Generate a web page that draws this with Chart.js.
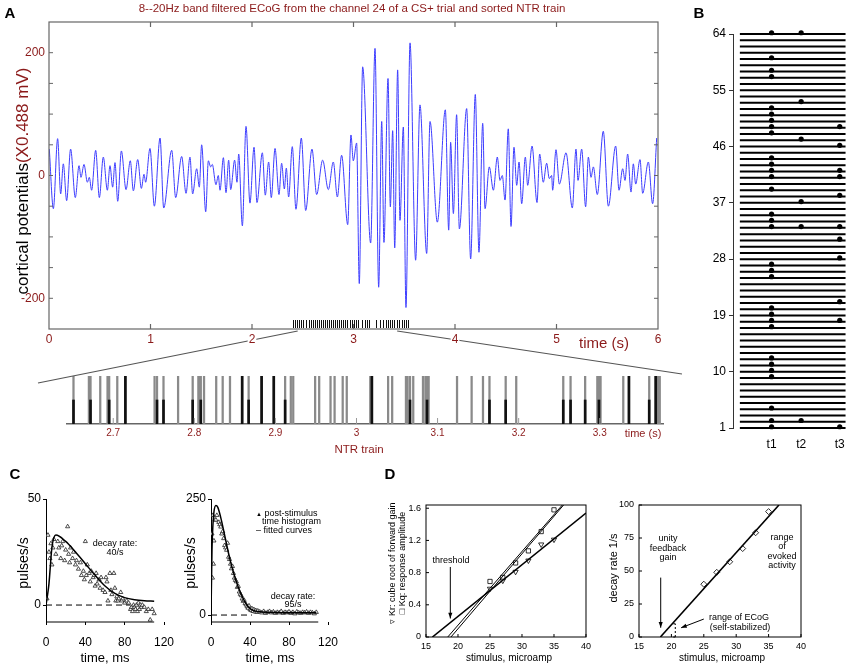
<!DOCTYPE html>
<html>
<head>
<meta charset="utf-8">
<script src="https://cdn.jsdelivr.net/npm/chart.js@4.4.1/dist/chart.umd.min.js"></script>
<style>
  body { margin: 0; background: #fff; }
  #fig { position: relative; width: 854px; height: 667px; overflow: hidden; font-family: "Liberation Sans", Arial, sans-serif; }
  canvas { position: absolute; }
  .t { position: absolute; white-space: nowrap; line-height: 1; transform: translate(-50%, -50%); }
  .l { transform: translate(0, -50%); }
  .r90 { transform: translate(-50%, -50%) rotate(-90deg); }
  .red { color: #8b1a1a; }
  .b { font-weight: bold; font-size: 15px; }
  .s { font-size: 9px; }
</style>
</head>
<body>
<div id="fig">
  <canvas id="cN" width="690" height="110" style="left:0;top:360px"></canvas>
  <canvas id="cA" width="690" height="390" style="left:0;top:0"></canvas>
  <canvas id="cB" width="164" height="460" style="left:690px;top:0"></canvas>
  <canvas id="cC1" width="205" height="187" style="left:0;top:480px"></canvas>
  <canvas id="cC2" width="240" height="187" style="left:180px;top:480px"></canvas>
  <canvas id="cD1" width="215" height="187" style="left:380px;top:480px"></canvas>
  <canvas id="cD2" width="254" height="187" style="left:600px;top:480px"></canvas>

  <div class="t b" style="left:10px;top:12px">A</div>
  <div class="t red" style="left:352px;top:9px;font-size:11.5px">8--20Hz band filtered ECoG from the channel 24 of a CS+ trial and sorted NTR train</div>
  <div class="t r90" style="left:22px;top:181px;font-size:17px">cortical potentials<span class="red">(X0.488 mV)</span></div>
  <div class="t red" style="left:604px;top:342px;font-size:15px">time (s)</div>
  <div class="t red" style="left:643px;top:433px;font-size:11px">time (s)</div>
  <div class="t red" style="left:359px;top:450px;font-size:11.5px">NTR train</div>

  <div class="t b" style="left:699px;top:12px">B</div>
  <div class="t b" style="left:15px;top:473px">C</div>
  <div class="t b" style="left:390px;top:473px">D</div>

  <div class="t r90" style="left:23px;top:563px;font-size:14px">pulses/s</div>
  <div class="t" style="left:105px;top:657px;font-size:13px">time, ms</div>
  <div class="t s" style="left:115px;top:543px">decay rate:</div>
  <div class="t s" style="left:115px;top:552px">40/s</div>

  <div class="t r90" style="left:190px;top:563px;font-size:14px">pulses/s</div>
  <div class="t" style="left:270px;top:657px;font-size:13px">time, ms</div>
  <div class="t l s" style="left:256px;top:513px"><span style="font-size:6px">▲</span> post-stimulus</div>
  <div class="t l s" style="left:262px;top:521px">time histogram</div>
  <div class="t l s" style="left:256px;top:530px">– fitted curves</div>
  <div class="t s" style="left:293px;top:596px">decay rate:</div>
  <div class="t s" style="left:293px;top:604px">95/s</div>

  <div class="t r90 s" style="left:392px;top:563px">▿ Kr: cube root of forward gain</div>
  <div class="t r90 s" style="left:402px;top:563px">□ Kq: response amplitude</div>
  <div class="t" style="left:509px;top:658px;font-size:10px">stimulus, microamp</div>
  <div class="t s" style="left:451px;top:560px">threshold</div>

  <div class="t r90" style="left:613px;top:568px;font-size:11px">decay rate 1/s</div>
  <div class="t" style="left:722px;top:658px;font-size:10px">stimulus, microamp</div>
  <div class="t s" style="left:668px;top:538px">unity</div>
  <div class="t s" style="left:668px;top:548px">feedback</div>
  <div class="t s" style="left:668px;top:557px">gain</div>
  <div class="t s" style="left:782px;top:537px">range</div>
  <div class="t s" style="left:782px;top:546px">of</div>
  <div class="t s" style="left:782px;top:556px">evoked</div>
  <div class="t s" style="left:782px;top:565px">activity</div>
  <div class="t s" style="left:739px;top:617px">range of ECoG</div>
  <div class="t s" style="left:740px;top:627px">(self-stabilized)</div>
</div>
<script>
// ---- data ----
// A: ECoG trace, local peaks and troughs [time s, value]
const ecogPeaks = [
  [0.003, 43], [0.043, -54], [0.085, 60], [0.115, -30], [0.141, 19], [0.174, -41], [0.213, 43], [0.259, -36],
  [0.296, 16], [0.315, -3], [0.345, 18], [0.378, -11], [0.397, -3], [0.420, -24], [0.460, 41], [0.496, -36],
  [0.535, 30], [0.575, -24], [0.601, 16], [0.627, -19], [0.650, 21], [0.677, -42], [0.713, 40], [0.759, -23],
  [0.801, 24], [0.831, -25], [0.874, 26], [0.910, -21], [0.936, 2], [0.952, -11], [0.995, 44], [1.038, -50],
  [1.094, 61], [1.130, -53], [1.209, 41], [1.248, -36], [1.307, 31], [1.350, -29], [1.389, 30], [1.415, -30],
  [1.455, 11], [1.481, -19], [1.504, 50], [1.544, -59], [1.570, 24], [1.593, 14], [1.609, 18], [1.645, -15],
  [1.668, 0], [1.685, -24], [1.718, 29], [1.744, -28], [1.770, 25], [1.790, -23], [1.829, 25], [1.852, -11],
  [1.869, 35], [1.905, -82], [1.941, 80], [1.980, -45], [2.020, 46], [2.049, -44], [2.102, 37], [2.131, -32],
  [2.164, 22], [2.190, -36], [2.227, 44], [2.266, -31], [2.292, 20], [2.319, -22], [2.338, 12], [2.361, -35],
  [2.397, 47], [2.433, -55], [2.486, 61], [2.529, -57], [2.591, 43], [2.637, -31], [2.696, 25], [2.752, -23],
  [2.801, 22], [2.841, -35], [2.883, 33], [2.943, -80], [2.975, 66], [2.998, 24], [3.031, 53], [3.057, -176],
  [3.090, 177], [3.169, -110], [3.212, 207], [3.248, -182], [3.278, 88], [3.300, -109], [3.340, 158], [3.363, -51],
  [3.386, 73], [3.406, -118], [3.435, 172], [3.458, -73], [3.491, 79], [3.517, -215], [3.557, 216], [3.612, -138],
  [3.655, 115], [3.721, -127], [3.754, 88], [3.826, -76], [3.905, 107], [3.938, -89], [3.957, 54], [3.984, -62],
  [4.016, 99], [4.043, -87], [4.115, 109], [4.154, -136], [4.200, 132], [4.236, -125], [4.273, 85], [4.296, -54],
  [4.338, 14], [4.378, -24], [4.417, 30], [4.443, -8], [4.466, 0], [4.493, -40], [4.525, 76], [4.552, -83],
  [4.581, 46], [4.608, -16], [4.631, 22], [4.657, -46], [4.693, 30], [4.716, -16], [4.759, 48], [4.808, -44],
  [4.834, 35], [4.870, -11], [4.903, 20], [4.929, -5], [4.952, 0], [4.962, -24], [4.995, 42], [5.028, -14],
  [5.094, 37], [5.156, -53], [5.192, 43], [5.212, -8], [5.248, 43], [5.287, -51], [5.314, 30], [5.340, -3],
  [5.363, 14], [5.402, -31], [5.461, 72], [5.511, -50], [5.583, 48], [5.616, -24], [5.652, 11], [5.675, -8],
  [5.701, 35], [5.734, -27], [5.757, 19], [5.780, -14], [5.823, 26], [5.849, -29], [5.905, 22], [5.947, -46],
  [5.987, 61],
];
// A: spike raster under the trace (s)
const rasterA = [2.404, 2.424, 2.443, 2.463, 2.483, 2.502, 2.532, 2.562, 2.581, 2.601, 2.621, 2.640, 2.660,
  2.680, 2.700, 2.719, 2.739, 2.759, 2.778, 2.798, 2.818, 2.837, 2.857, 2.877, 2.897, 2.916, 2.936, 2.966,
  2.985, 3.005, 3.025, 3.044, 3.084, 3.113, 3.133, 3.153, 3.222, 3.261, 3.291, 3.320, 3.340, 3.360, 3.379,
  3.399, 3.429, 3.448, 3.478, 3.498, 3.517, 3.537];
const xTicksA = [0, 1, 2, 3, 4, 5, 6];
// NTR train (s)
const ntrAll = [2.651, 2.670, 2.672, 2.684, 2.693, 2.695, 2.705, 2.715, 2.751, 2.754, 2.762, 2.780, 2.798,
  2.805, 2.806, 2.808, 2.812, 2.827, 2.835, 2.844, 2.859, 2.867, 2.883, 2.898, 2.912, 2.919, 2.922, 2.949,
  2.954, 2.968, 2.973, 2.983, 2.988, 3.017, 3.019, 3.039, 3.044, 3.061, 3.063, 3.066, 3.070, 3.082, 3.085,
  3.087, 3.089, 3.124, 3.142, 3.156, 3.164, 3.184, 3.197, 3.255, 3.264, 3.282, 3.297, 3.299, 3.301, 3.329,
  3.336, 3.361, 3.369, 3.372, 3.374];
const ntrSorted = [2.651, 2.672, 2.695, 2.754, 2.762, 2.798, 2.808, 2.867, 2.912, 3.066, 3.087, 3.164,
  3.184, 3.255, 3.264, 3.282, 3.299, 3.361];
const ntrStrong = [2.715, 2.859, 2.883, 2.898, 3.019, 3.336, 3.369];
const ntrTicks = [2.7, 2.8, 2.9, 3.0, 3.1, 3.2, 3.3];
// B: channels and the channels that fire at t1, t2, t3
const channelIds = Array.from({ length: 64 }, (_, i) => i + 1);
const channelTicks = [1, 10, 19, 28, 37, 46, 55, 64];
const tLabels = ['t1', 't2', 't3'];
const tPos = [0.30, 0.58, 0.945];
const dotsT1 = [64, 60, 58, 57, 52, 51, 50, 49, 48, 44, 43, 42, 41, 39, 35, 34, 33, 27, 26, 25, 20, 19, 18, 17, 12, 11, 10, 9, 4, 2, 1];
const dotsT2 = [64, 53, 47, 37, 33, 2];
const dotsT3 = [49, 46, 42, 41, 38, 33, 31, 28, 21, 18, 1];
// C left: post-stimulus histogram (ms, pulses/s) and fit
const psthSlow = [[1, 3], [2, 33], [3, 25], [4, 22], [5, 29], [6, 19], [7, 27], [8, 31], [10, 24], [12, 30],
  [13, 27], [15, 22], [16, 28], [17, 30], [19, 21], [20, 26], [22, 37], [23, 24], [24, 20], [25, 27], [27, 22],
  [28, 25], [30, 19], [31, 21], [33, 17], [35, 20], [36, 14], [38, 16], [39, 12], [40, 30], [41, 14], [42, 19],
  [44, 15], [45, 11], [46, 16], [48, 13], [49, 14], [50, 9], [51, 15], [52, 10], [54, 12], [55, 8], [56, 13],
  [58, 7], [60, 6], [61, 13], [62, 11], [63, 2], [65, 15], [66, 7], [67, 5], [69, 15], [70, 8], [71, 2],
  [72, 4], [73, 2], [74, 3], [76, 6], [77, 2], [78, 3], [80, 1], [82, 2], [84, 1], [86, -2], [87, -1], [88, -3],
  [89, 0], [90, -1], [91, -2], [92, 0], [93, -3], [94, 1], [95, -2], [96, 0], [97, -1], [98, 0], [100, -1],
  [102, -3], [104, -2], [106, -7], [108, -2], [110, -4]];
const fitSlow = [[0, 0], [1, 3], [3, 10], [6, 27], [10, 33], [20, 30], [30, 25], [40, 19.5], [50, 14],
  [60, 9], [70, 5.5], [80, 3.5], [90, 2.5], [100, 2], [110, 1.8]];
// C right
const psthFast = [[1, 175], [1.5, 80], [2, 215], [2.5, 110], [3, 160], [4, 205], [5, 205], [6, 215], [8, 200],
  [9, 195], [10, 190], [11, 175], [12, 180], [13, 165], [14, 150], [15, 145], [16, 140], [17, 155], [18, 125],
  [19, 120], [20, 110], [21, 100], [22, 105], [23, 90], [24, 80], [25, 75], [26, 72], [27, 60], [28, 62],
  [29, 50], [30, 45], [31, 42], [32, 35], [33, 30], [34, 32], [35, 25], [36, 22], [37, 18], [38, 15], [39, 20],
  [40, 12], [41, 10], [42, 14], [43, 8], [44, 12], [45, 7], [46, 10], [47, 6], [48, 9], [50, 7], [52, 5],
  [54, 8], [56, 4], [58, 6], [60, 8], [62, 5], [64, 7], [66, 4], [68, 6], [70, 5], [72, 8], [74, 4], [76, 6],
  [78, 5], [80, 7], [82, 4], [84, 6], [86, 3], [88, 7], [90, 5], [92, 4], [94, 6], [96, 5], [98, 7], [100, 4],
  [102, 6], [104, 5], [106, 3], [108, 6]];
const fitFast = [[0, 0], [1, 140], [2, 195], [3, 222], [5, 236], [7, 232], [10, 210], [13, 182], [16, 152],
  [20, 115], [24, 85], [28, 60], [32, 40], [36, 24], [40, 14], [45, 9], [50, 7], [60, 6], [80, 5], [108, 5]];
// D left: stimulus (microamp) vs Kq (squares) and Kr (triangles)
const stimulus = [25, 27, 29, 31, 33, 35];
const kq = [0.69, 0.74, 0.92, 1.07, 1.31, 1.58];
const kr = [0.60, 0.70, 0.81, 0.95, 1.15, 1.21];
const krFit = [[16, 0], [40, 1.54]];
const kqFitA = [[18.4, 0], [36.3, 1.64]];
const kqFitB = [[18.9, 0], [36.5, 1.64]];
// D right: decay rate
const decay = [40, 49, 57, 67, 79, 95];
const decayFit = [[18.3, 0], [36.6, 100]];

// ---- helpers ----
const RED = '#8b1a1a';
Chart.defaults.font.family = '"Liberation Sans", Arial, sans-serif';
Chart.defaults.color = '#000';
Chart.defaults.animation = false;
Chart.defaults.responsive = false;
Chart.defaults.events = [];
Chart.defaults.plugins.legend.display = false;
Chart.defaults.plugins.tooltip.enabled = false;

const fixW = (w) => (s) => { s.width = w; };
const fixH = (h) => (s) => { s.height = h; };
const setTicks = (vals) => (s) => { s.ticks = vals.map((value) => ({ value })); };
const pts = (arr) => arr.map(([x, y]) => ({ x, y }));
const noGrid = { display: false, drawTicks: false };

function seg(ctx, x1, y1, x2, y2, w = 1, c = '#000', dash = []) {
  ctx.save();
  ctx.strokeStyle = c; ctx.lineWidth = w; ctx.setLineDash(dash);
  ctx.beginPath(); ctx.moveTo(x1, y1); ctx.lineTo(x2, y2); ctx.stroke();
  ctx.restore();
}
function arrow(ctx, x1, y1, x2, y2) {
  seg(ctx, x1, y1, x2, y2, 1);
  const a = Math.atan2(y2 - y1, x2 - x1);
  ctx.save();
  ctx.fillStyle = '#000';
  ctx.beginPath();
  ctx.moveTo(x2, y2);
  ctx.lineTo(x2 - 6 * Math.cos(a - 0.35), y2 - 6 * Math.sin(a - 0.35));
  ctx.lineTo(x2 - 6 * Math.cos(a + 0.35), y2 - 6 * Math.sin(a + 0.35));
  ctx.closePath(); ctx.fill();
  ctx.restore();
}
function frame(chart, c = '#000', w = 1) {
  const a = chart.chartArea;
  chart.ctx.save();
  chart.ctx.strokeStyle = c; chart.ctx.lineWidth = w;
  chart.ctx.strokeRect(a.left, a.top, a.right - a.left, a.bottom - a.top);
  chart.ctx.restore();
}

// ---- A: ECoG ----
new Chart(document.getElementById('cA'), {
  type: 'line',
  data: { datasets: [{ data: pts(ecogPeaks), borderColor: '#3d3dff', borderWidth: 1, pointRadius: 0, cubicInterpolationMode: 'monotone' }] },
  options: {
    layout: { padding: { left: 0, top: 22, right: 32, bottom: 40 } },
    scales: {
      x: {
        type: 'linear', min: 0, max: 6, afterFit: fixH(21), afterBuildTicks: setTicks(xTicksA),
        grid: noGrid, border: { display: false },
        ticks: { color: RED, font: { size: 12 }, padding: 3, maxRotation: 0, autoSkip: false, showLabelBackdrop: true, backdropColor: '#fff', backdropPadding: 1 },
      },
      y: {
        min: -250, max: 250, afterFit: fixW(49), grid: noGrid, border: { display: false },
        ticks: { stepSize: 50, autoSkip: false, color: RED, font: { size: 12 }, padding: 4, callback: (v) => (v % 200 === 0 ? v : '') },
      },
    },
  },
  plugins: [{
    id: 'decoA',
    beforeDraw(c) {
      const { ctx, scales: { x }, chartArea: a } = c;
      seg(ctx, x.getPixelForValue(2.45), a.bottom + 2, 38, 383, 1.2, '#555');
      seg(ctx, x.getPixelForValue(3.43), a.bottom + 2, 682, 374, 1.2, '#555');
    },
    afterDatasetsDraw(c) {
      const { ctx, scales: { x, y }, chartArea: a } = c;
      frame(c, '#666', 1.2);
      [1, 2, 3, 4, 5].forEach((v) => {
        const px = x.getPixelForValue(v);
        seg(ctx, px, a.top, px, a.top + 5, 1.2, '#666');
        seg(ctx, px, a.bottom, px, a.bottom - 5, 1.2, '#666');
      });
      for (let v = -200; v <= 200; v += 50) {
        const py = y.getPixelForValue(v);
        seg(ctx, a.left, py, a.left + 4, py, 1, '#666');
        seg(ctx, a.right, py, a.right - 4, py, 1, '#666');
      }
      rasterA.forEach((t) => {
        const px = Math.round(x.getPixelForValue(t)) + 0.5;
        seg(ctx, px, a.bottom - 9, px, a.bottom - 1, 1, '#111');
      });
    },
  }],
});

// ---- NTR train ----
const spikeSet = (times, h, color, w) => ({
  type: 'bar', data: times.map((x) => ({ x, y: h })), backgroundColor: color, barThickness: w, grouped: false,
});
new Chart(document.getElementById('cN'), {
  type: 'bar',
  data: { datasets: [spikeSet(ntrStrong, 1, '#111', 2), spikeSet(ntrSorted, 0.5, '#111', 2), spikeSet(ntrAll, 1, '#8a8a8a', 1.6)] },
  options: {
    layout: { padding: { left: 67, top: 16, right: 27, bottom: 0 } },
    scales: {
      x: {
        type: 'linear', min: 2.643, max: 3.378, offset: false, afterFit: fixH(46), afterBuildTicks: setTicks(ntrTicks),
        grid: noGrid, border: { display: true, color: '#666', width: 1.5 },
        ticks: { color: RED, font: { size: 10 }, padding: 3, maxRotation: 0, autoSkip: false, callback: (v) => +v.toFixed(1) },
      },
      y: { display: false, min: 0, max: 1 },
    },
  },
  plugins: [{
    id: 'ntrTicks',
    afterDatasetsDraw(c) {
      const { ctx, scales: { x }, chartArea: a } = c;
      ntrTicks.forEach((v) => {
        const px = x.getPixelForValue(v);
        seg(ctx, px, a.bottom, px, a.bottom - 6, 1, '#999');
      });
    },
  }],
});

// ---- B: channel raster ----
const chanLines = [];
channelIds.forEach((k) => chanLines.push({ x: 0, y: k }, { x: 1, y: k }, { x: 1, y: null }));
const dotSet = (chs, xi) => ({
  type: 'scatter', data: chs.map((k) => ({ x: tPos[xi], y: k + 0.2 })), pointStyle: 'circle', pointRadius: 2.6,
  backgroundColor: '#000', borderWidth: 0, clip: false,
});
new Chart(document.getElementById('cB'), {
  type: 'line',
  data: {
    datasets: [
      dotSet(dotsT1, 0), dotSet(dotsT2, 1), dotSet(dotsT3, 2),
      { data: chanLines, borderColor: '#000', borderWidth: 2, pointRadius: 0, spanGaps: false, clip: false },
    ],
  },
  options: {
    layout: { padding: { left: 0, top: 34, right: 5, bottom: 0 } },
    scales: {
      x: {
        type: 'linear', min: -0.065, max: 1, afterFit: fixH(32), afterBuildTicks: setTicks(tPos),
        grid: noGrid, border: { display: false },
        ticks: { font: { size: 12 }, padding: 9, maxRotation: 0, autoSkip: false, callback: (v, i) => tLabels[i] },
      },
      y: {
        min: 1, max: 64, afterFit: fixW(43), afterBuildTicks: setTicks(channelTicks),
        grid: { drawOnChartArea: false, drawTicks: true, tickLength: 4, color: '#333' },
        border: { display: true, color: '#333' },
        ticks: { font: { size: 12 }, padding: 3, autoSkip: false },
      },
    },
  },
});

// ---- C: post-stimulus histograms ----
function psthChart(id, hist, fit, yMin, yMax, yTop, dashEnd, yW, padR) {
  return new Chart(document.getElementById(id), {
    type: 'scatter',
    data: {
      datasets: [
        { data: pts(fit), showLine: true, borderColor: '#000', borderWidth: 1.5, pointRadius: 0, tension: 0.4, cubicInterpolationMode: 'monotone' },
        { data: [{ x: 0, y: 0 }, { x: dashEnd, y: 0 }], showLine: true, borderColor: '#000', borderWidth: 1, borderDash: [6, 4], pointRadius: 0 },
        { data: pts(hist), pointStyle: 'triangle', pointRadius: 2.4, borderWidth: 0.8, borderColor: '#222', backgroundColor: '#fff' },
      ],
    },
    options: {
      layout: { padding: { left: 0, top: 19, right: padR, bottom: 0 } },
      scales: {
        x: {
          type: 'linear', min: 0, max: 120, afterFit: fixH(45), afterBuildTicks: setTicks([0, 40, 80, 120]),
          grid: { drawOnChartArea: false, drawTicks: true, tickLength: 3, color: '#000' }, border: { display: false },
          ticks: { font: { size: 12 }, padding: 10, maxRotation: 0, autoSkip: false },
        },
        y: {
          min: yMin, max: yMax, afterFit: fixW(yW), afterBuildTicks: setTicks([0, yTop]),
          grid: { drawOnChartArea: false, drawTicks: true, tickLength: 3, color: '#000' }, border: { display: true, color: '#000' },
          ticks: { font: { size: 12 }, padding: 2, autoSkip: false },
        },
      },
    },
    plugins: [{
      id: 'baseLine',
      afterDatasetsDraw(c) {
        const { ctx, scales: { x }, chartArea: a } = c;
        seg(ctx, a.left, a.bottom, x.getPixelForValue(110), a.bottom, 1, '#000');
      },
    }],
  });
}
psthChart('cC1', psthSlow, fitSlow, -8, 50, 50, 86, 46, 41);
psthChart('cC2', psthFast, fitFast, -15, 250, 250, 42, 31, 92);

// ---- D: stimulus plots ----
function innerTicks(c, xs, ys) {
  const { ctx, scales: { x, y }, chartArea: a } = c;
  xs.forEach((v) => { const p = x.getPixelForValue(v); seg(ctx, p, a.bottom, p, a.bottom - 3); });
  ys.forEach((v) => { const p = y.getPixelForValue(v); seg(ctx, a.left, p, a.left + 3, p); });
}
const stimX = [15, 20, 25, 30, 35, 40];
const dScaleX = {
  type: 'linear', min: 15, max: 40, afterFit: fixH(30), afterBuildTicks: setTicks(stimX),
  grid: noGrid, border: { display: false }, ticks: { font: { size: 9 }, padding: 4, maxRotation: 0, autoSkip: false },
};
const lineSet = (arr, w) => ({ data: pts(arr), showLine: true, borderColor: '#000', borderWidth: w, pointRadius: 0 });
const openPts = (ys, style, r, rot) => ({
  data: stimulus.map((x, i) => ({ x, y: ys[i] })), pointStyle: style, pointRadius: r, pointRotation: rot || 0,
  borderColor: '#000', borderWidth: 0.8, backgroundColor: '#fff',
});

const kTicks = [0, 0.4, 0.8, 1.2, 1.6];
new Chart(document.getElementById('cD1'), {
  type: 'scatter',
  data: { datasets: [lineSet(krFit, 1.6), lineSet(kqFitA, 1), lineSet(kqFitB, 1), openPts(kr, 'triangle', 3, 180), openPts(kq, 'rect', 3)] },
  options: {
    layout: { padding: { left: 0, top: 25, right: 8, bottom: 0 } },
    scales: {
      x: dScaleX,
      y: {
        min: 0, max: 1.64, afterFit: fixW(46), afterBuildTicks: setTicks(kTicks), grid: noGrid, border: { display: false },
        ticks: { font: { size: 9 }, padding: 5, autoSkip: false },
      },
    },
  },
  plugins: [{
    id: 'decoD1',
    afterDatasetsDraw(c) {
      const { ctx, scales: { x, y } } = c;
      frame(c);
      innerTicks(c, stimX, kTicks);
      arrow(ctx, x.getPixelForValue(18.8), y.getPixelForValue(0.87), x.getPixelForValue(18.8), y.getPixelForValue(0.23));
    },
  }],
});

const rateTicks = [0, 25, 50, 75, 100];
new Chart(document.getElementById('cD2'), {
  type: 'scatter',
  data: { datasets: [lineSet(decayFit, 1.6), { ...openPts(decay, 'rectRot', 3), data: stimulus.map((x, i) => ({ x, y: decay[i] })) }] },
  options: {
    layout: { padding: { left: 0, top: 25, right: 53, bottom: 0 } },
    scales: {
      x: dScaleX,
      y: {
        min: 0, max: 100, afterFit: fixW(39), afterBuildTicks: setTicks(rateTicks), grid: noGrid, border: { display: false },
        ticks: { font: { size: 9 }, padding: 5, autoSkip: false },
      },
    },
  },
  plugins: [{
    id: 'decoD2',
    afterDatasetsDraw(c) {
      const { ctx, scales: { x, y } } = c;
      frame(c);
      innerTicks(c, stimX, rateTicks);
      arrow(ctx, x.getPixelForValue(18.35), y.getPixelForValue(45), x.getPixelForValue(18.35), y.getPixelForValue(7));
      const bx = x.getPixelForValue(20.6);
      seg(ctx, bx, y.getPixelForValue(0), bx, y.getPixelForValue(10), 1, '#000', [2, 2]);
      seg(ctx, bx - 2, y.getPixelForValue(10), bx, y.getPixelForValue(10));
      seg(ctx, bx - 2, y.getPixelForValue(0), bx, y.getPixelForValue(0));
      arrow(ctx, x.getPixelForValue(25), y.getPixelForValue(13.6), x.getPixelForValue(21.5), y.getPixelForValue(7));
    },
  }],
});
</script>
</body>
</html>
